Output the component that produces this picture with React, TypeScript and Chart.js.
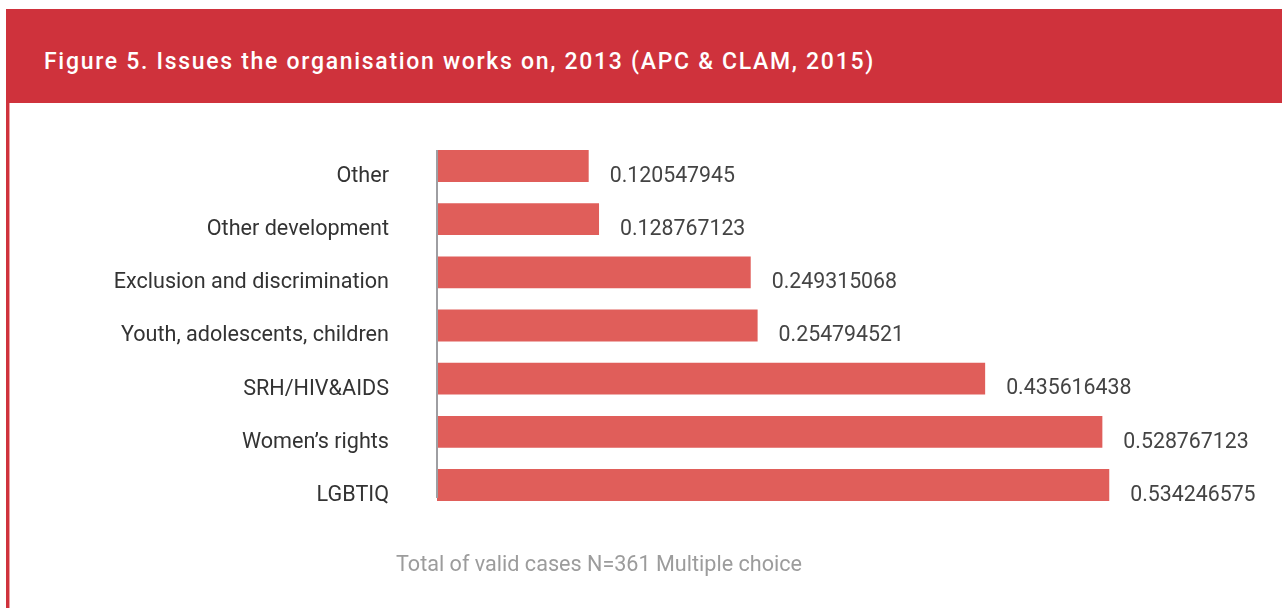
import React, { useEffect, useRef } from "react";
import { Chart, registerables } from "chart.js";

Chart.register(...registerables);

const TITLE = "Figure 5. Issues the organisation works on, 2013 (APC & CLAM, 2015)";
const FOOTNOTE = "Total of valid cases N=361 Multiple choice";
const categories = [
  "Other",
  "Other development",
  "Exclusion and discrimination",
  "Youth, adolescents, children",
  "SRH/HIV&AIDS",
  "Women’s rights",
  "LGBTIQ",
];
const values = [0.120547945, 0.128767123, 0.249315068, 0.254794521, 0.435616438, 0.528767123, 0.534246575];
const valueLabels = ["0.120547945", "0.128767123", "0.249315068", "0.254794521", "0.435616438", "0.528767123", "0.534246575"];

const FONT = "Roboto, 'Noto Sans', sans-serif";
const RED = "#cf323c";
const BAR = "#e05e5a";

const extrasPlugin = {
  id: "extras",
  afterDatasetsDraw(chart: any) {
    const ctx = chart.ctx;
    const meta = chart.getDatasetMeta(0);
    const xs = chart.scales.x;
    ctx.save();
    // axis line
    const first = meta.data[0];
    const last = meta.data[meta.data.length - 1];
    const x0 = xs.getPixelForValue(0);
    ctx.strokeStyle = "#9e9ea2";
    ctx.lineWidth = 2;
    ctx.beginPath();
    ctx.moveTo(x0, first.y - first.height / 2);
    ctx.lineTo(x0, last.y + last.height / 2 - 3);
    ctx.stroke();
    // value labels
    ctx.fillStyle = "#444444";
    ctx.font = `21.3px ${FONT}`;
    ctx.textAlign = "left";
    ctx.textBaseline = "middle";
    meta.data.forEach((bar: any, i: number) => {
      ctx.fillText(valueLabels[i], bar.x + 21, bar.y + 10.5);
    });
    ctx.restore();
  },
};

export default function App() {
  const ref = useRef<HTMLCanvasElement>(null);
  useEffect(() => {
    if (!ref.current) return;
    const chart = new Chart(ref.current, {
      type: "bar",
      data: {
        labels: categories,
        datasets: [
          {
            data: values,
            backgroundColor: BAR,
            borderWidth: 0,
            barPercentage: 0.6,
            categoryPercentage: 1,
          },
        ],
      },
      options: {
        indexAxis: "y",
        responsive: false,
        animation: false,
        events: [],
        layout: { padding: { left: 0, right: 90, top: 139.4, bottom: 96.4 } },
        plugins: { legend: { display: false }, tooltip: { enabled: false } },
        scales: {
          x: { display: false, min: 0, max: 0.6 },
          y: {
            grid: { display: false, drawTicks: false },
            border: { display: false },
            ticks: {
              color: "#333333",
              font: { family: FONT, size: 21.6 },
              padding: 48,
              labelOffset: 10.5,
            },
            afterFit: (scale: any) => {
              scale.width = 437;
            },
          },
        },
      },
      plugins: [extrasPlugin],
    });
    return () => chart.destroy();
  }, []);

  return (
    <div style={{ position: "absolute", left: 0, top: 0, width: 1282, height: 608, background: "#fff", overflow: "hidden" }}>
      <div style={{ position: "absolute", left: 6, top: 9, width: 1276, height: 94, background: RED }} />
      <div style={{ position: "absolute", left: 6, top: 103, width: 3, height: 505, background: RED }} />
      <div style={{ position: "absolute", left: 9, top: 103, width: 1, height: 505, background: "#f0a0a4" }} />
      <div
        style={{
          position: "absolute",
          left: 44,
          top: 49.7,
          fontFamily: FONT,
          fontSize: 23,
          lineHeight: "23px",
          fontWeight: 500,
          letterSpacing: 1.7,
          color: "#ffffff",
          whiteSpace: "nowrap",
        }}
      >
        {TITLE}
      </div>
      <canvas ref={ref} width={1282} height={608} style={{ position: "absolute", left: 0, top: 0, width: 1282, height: 608 }} />
      <div
        style={{
          position: "absolute",
          left: 396,
          top: 553,
          fontFamily: FONT,
          fontSize: 21.6,
          lineHeight: "21.6px",
          color: "#9c9c9c",
          whiteSpace: "nowrap",
        }}
      >
        {FOOTNOTE}
      </div>
    </div>
  );
}
